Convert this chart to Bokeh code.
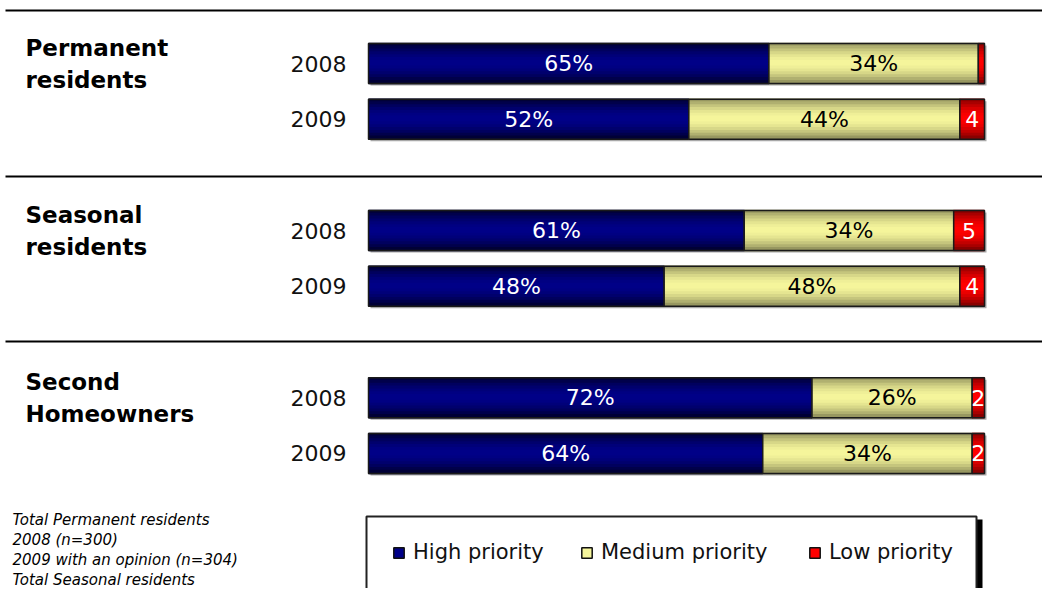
from bokeh.plotting import figure
from bokeh.models import Range1d, ColumnDataSource, Legend, LegendItem
from bokeh.core.properties import value
from bokeh.embed import file_html
from bokeh.resources import INLINE

# ---------------- data ----------------
groups = ["Permanent residents", "Seasonal residents", "Second Homeowners"]
group_lines = [["Permanent", "residents"], ["Seasonal", "residents"], ["Second", "Homeowners"]]
years = ["2008", "2009"]
high = [65, 52, 61, 48, 72, 64]
medium = [34, 44, 34, 48, 26, 34]
low = [1, 4, 5, 4, 2, 2]
series_names = ["High priority", "Medium priority", "Low priority"]
footnotes = ["Total Permanent residents", "2008 (n=300)", "2009 with an opinion (n=304)",
             "Total Seasonal residents"]

# ---------------- geometry (pixel mapping) ----------------
W, H = 1042, 588
PX_X = 6.16          # pixels per percent
PX_Y = 55.7          # pixels per row unit
BAR_X0 = 368         # pixel where 0% sits
ROW0 = 63            # pixel of first row centre
X0 = -BAR_X0 / PX_X
X1 = X0 + W / PX_X
Y_TOP = -ROW0 / PX_Y
Y_BOT = Y_TOP + H / PX_Y


def xp(px):
    return (px - BAR_X0) / PX_X


def yp(py):
    return (py - ROW0) / PX_Y


p = figure(width=W, height=H, x_range=Range1d(X0, X1), y_range=Range1d(Y_BOT, Y_TOP),
           output_backend="svg", toolbar_location=None, min_border=0,
           x_axis_type=None, y_axis_type=None, outline_line_color=None,
           background_fill_color="white", border_fill_color="white")
p.grid.visible = False

# row positions
rows = []
row_years = []
for g in range(len(groups)):
    for i, y in enumerate(years):
        rows.append(3 * g + i)
        row_years.append(y)

BH = 40 / PX_Y
starts_med = high
ends_med = [h + m for h, m in zip(high, medium)]
ends_low = [e + l for e, l in zip(ends_med, low)]

# shadow
dx, dy = 2 / PX_X, 2 / PX_Y
p.hbar(y=[r + dy for r in rows], left=[dx] * len(rows), right=[e + dx for e in ends_low],
       height=BH, fill_color="#A8A8A8", line_color=None)


def hexmix(c1, c2, t):
    a = [int(c1[i:i + 2], 16) for i in (1, 3, 5)]
    b = [int(c2[i:i + 2], 16) for i in (1, 3, 5)]
    return "#%02x%02x%02x" % tuple(int(round(a[k] + (b[k] - a[k]) * t)) for k in range(3))


seg_defs = [
    ([0] * len(rows), high, "#000088", "#00002a"),
    (starts_med, ends_med, "#f6f69c", "#8a8a58"),
    (ends_med, ends_low, "#ff0000", "#780000"),
]
NS = 14
for left, right, cmid, cedge in seg_defs:
    for k in range(NS):
        t = (k + 0.5) / NS
        d = abs(t - 0.5) * 2
        col = hexmix(cmid, cedge, d ** 1.8)
        off = -BH / 2 + (k + 0.5) * BH / NS
        p.hbar(y=[rr + off for rr in rows], left=left, right=right,
               height=BH / NS + 1.5 / PX_Y, fill_color=col, line_color=None)
    # outline
    p.hbar(y=rows, left=left, right=right, height=BH, fill_color=None,
           line_color="#1a1a1a", line_width=1.5)

# legend proxy renderers (solid swatches, off-screen)
proxies = []
for (_, _, cmid, _), name in zip(seg_defs, series_names):
    pr = p.quad(left=[X0 - 20], right=[X0 - 10], top=[0], bottom=[1],
                fill_color=cmid, line_color="#111111", line_width=1.5)
    proxies.append(pr)

# labels in segments
lab_src = ColumnDataSource(dict(
    x=[h / 2 for h in high] + [(s + e) / 2 for s, e in zip(starts_med, ends_med)]
      + [(s + e) / 2 for s, e in zip(ends_med, ends_low)],
    y=rows * 3,
    t=[f"{v}%" for v in high] + [f"{v}%" for v in medium] + [str(v) if v >= 2 else "" for v in low],
    c=["white"] * len(rows) + ["black"] * len(rows) + ["white"] * len(rows),
))
p.text(x="x", y="y", text="t", text_color="c", source=lab_src, text_align="center",
       text_baseline="middle", text_font=value("DejaVu Sans"), text_font_size="22px")

# year labels
p.text(x=[xp(346)] * len(rows), y=rows, text=row_years, text_align="right",
       text_baseline="middle", text_font=value("DejaVu Sans"), text_font_size="22px",
       text_color="#111111")

# group titles
tx, ty, tt = [], [], []
for g, lines in enumerate(group_lines):
    tx += [xp(25)] * 2
    ty += [3 * g - 15.5 / PX_Y, 3 * g + 16.5 / PX_Y]
    tt += lines
p.text(x=tx, y=ty, text=tt, text_align="left", text_baseline="alphabetic",
       text_font=value("DejaVu Sans"), text_font_style="bold", text_font_size="23px",
       text_color="black")

# separators
for sy in [10, 176, 341]:
    p.line(x=[xp(5), X1], y=[yp(sy), yp(sy)], line_color="black", line_width=2)

# footnotes
p.text(x=[xp(12)] * len(footnotes),
       y=[yp(519 + 20 * i) for i in range(len(footnotes))],
       text=footnotes, text_align="left", text_baseline="alphabetic",
       text_font=value("DejaVu Sans"), text_font_style="italic", text_font_size="15px",
       text_color="black")

# legend frame (with shadow)
fl, fr, ft = xp(366), xp(976), yp(516)
p.quad(left=[fl + 6 / PX_X], right=[fr + 6 / PX_X], top=[ft + 3 / PX_Y], bottom=[Y_BOT + 1],
       fill_color="black", line_color=None)
p.quad(left=[fl], right=[fr], top=[ft], bottom=[Y_BOT + 1],
       fill_color="white", line_color="#222222", line_width=2)

# legends (one per item for exact placement)
leg_x = [392, 580, 808]
for pr, name, lx in zip(proxies, series_names, leg_x):
    leg = Legend(items=[LegendItem(label=name, renderers=[pr])],
                 location=(lx, H - 554 - 10), orientation="horizontal",
                 padding=0, margin=0, spacing=0, glyph_width=13, glyph_height=13,
                 label_standoff=8, label_text_font="DejaVu Sans", label_text_font_size="21px",
                 label_text_color="#111111", label_height=20,
                 border_line_alpha=0, background_fill_alpha=0)
    p.add_layout(leg, "center")

open("out.html", "w").write(file_html(p, INLINE))
